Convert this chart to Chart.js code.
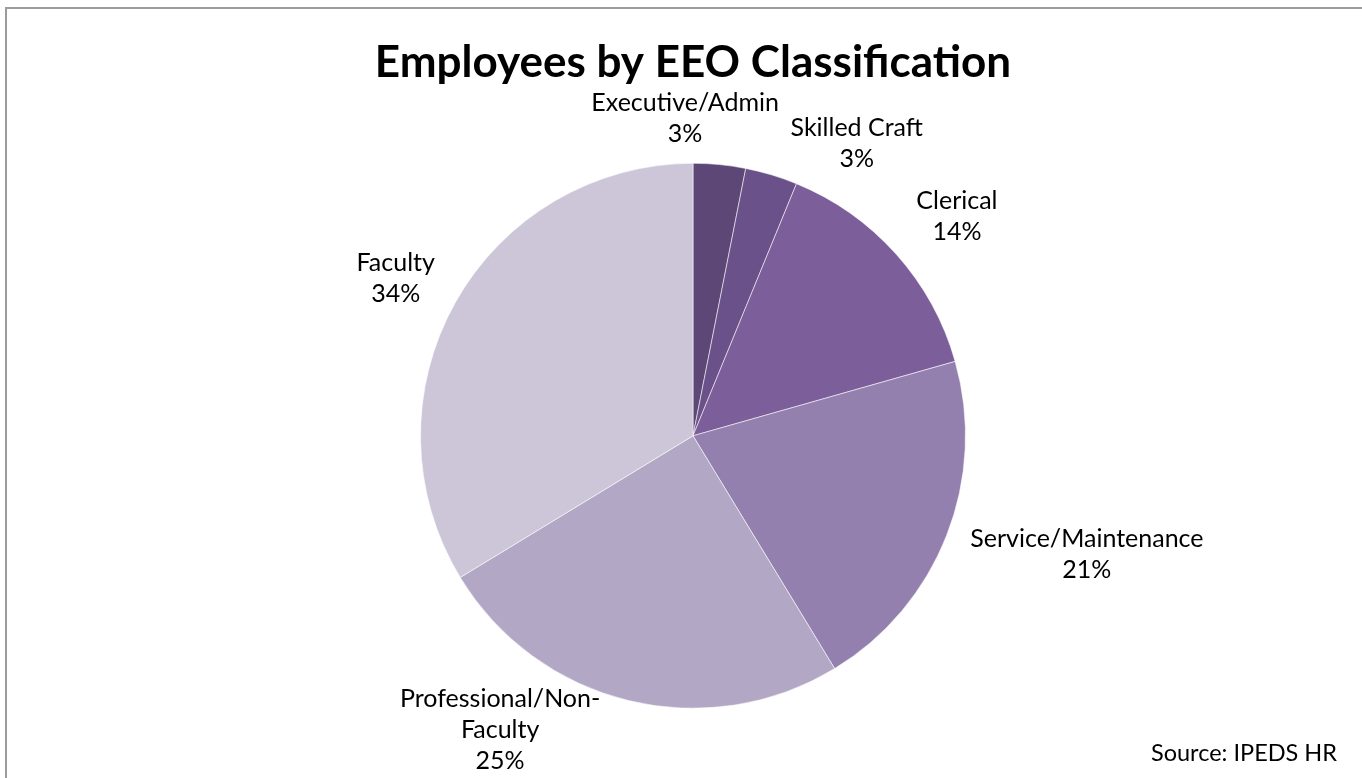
<!DOCTYPE html>
<html>
<head>
<meta charset="utf-8">
<title>Employees by EEO Classification</title>
<script src="https://cdn.jsdelivr.net/npm/chart.js@4.4.1/dist/chart.umd.min.js"></script>
<style>
  html, body { margin: 0; padding: 0; background: #fff; }
  body { width: 1362px; height: 778px; position: relative; overflow: hidden; }
  /* frame of the original chart object, its right and bottom edges are off-picture */
  .frame {
    position: absolute; left: 5px; top: 7px; width: 1400px; height: 800px;
    border-top: 2px solid #9c9c9c; border-left: 2px solid #9c9c9c;
  }
  .wrap { position: absolute; left: 0; top: 0; width: 1362px; height: 778px; }
</style>
</head>
<body>
<div class="frame"></div>
<div class="wrap"><canvas id="pie"></canvas></div>
<script>
// chart data
const categories = [
  'Executive/Admin',
  'Skilled Craft',
  'Clerical',
  'Service/Maintenance',
  ['Professional/Non-', 'Faculty'],
  'Faculty'
];
const shares = [3.1, 3.1, 14.4, 20.7, 25.0, 33.7];

// slice colours, dark to light
const sliceColors = ['#5d4777', '#6a5189', '#7b5e9a', '#9480ae', '#b2a8c6', '#cdc6d9'];

// where each data label sits: turn from the slice middle (deg) and distance (x radius)
const labelTurn = [-7, 12.5, 2, -4.6, 19.6, -1.4];
const labelDist = [1.165, 1.23, 1.26, 1.51, 1.29, 1.235];

const FONT = 'Lato, "Open Sans", "DejaVu Sans", sans-serif';

// draws "Name / xx%" next to every slice
const sliceLabels = {
  id: 'sliceLabels',
  afterDatasetsDraw(chart) {
    const ctx = chart.ctx;
    const arcs = chart.getDatasetMeta(0).data;
    const total = shares.reduce((a, b) => a + b, 0);
    ctx.save();
    ctx.font = '25px ' + FONT;
    ctx.fillStyle = '#000';
    ctx.textAlign = 'center';
    ctx.textBaseline = 'middle';
    arcs.forEach((arc, i) => {
      const p = arc.getProps(['x', 'y', 'startAngle', 'endAngle', 'outerRadius'], true);
      const mid = (p.startAngle + p.endAngle) / 2 + labelTurn[i] * Math.PI / 180;
      const r = p.outerRadius * labelDist[i];
      const cx = p.x + Math.cos(mid) * r;
      const cy = p.y + Math.sin(mid) * r;
      const name = [].concat(categories[i]);
      const lines = name.concat(Math.round(shares[i] / total * 100) + '%');
      const lh = 31;
      const top = cy - (lines.length - 1) * lh / 2;
      lines.forEach((t, k) => ctx.fillText(t, cx, top + k * lh));
    });
    ctx.restore();
  }
};

new Chart(document.getElementById('pie'), {
  type: 'pie',
  data: {
    labels: categories,
    datasets: [{
      data: shares,
      backgroundColor: sliceColors,
      borderColor: 'rgba(255,255,255,0.55)',
      borderWidth: 1
    }]
  },
  options: {
    responsive: true,
    maintainAspectRatio: false,
    animation: false,
    layout: { padding: { left: 49, right: 25, top: 10, bottom: 10 } },
    plugins: {
      legend: { display: false },
      tooltip: { enabled: false },
      title: {
        display: true,
        text: 'Employees by EEO Classification',
        color: '#000',
        font: { family: FONT, size: 44, weight: 'bold', lineHeight: 1.2 },
        padding: { top: 26, bottom: 74 }
      },
      subtitle: {
        display: true,
        position: 'bottom',
        align: 'end',
        text: 'Source: IPEDS HR',
        color: '#000',
        font: { family: FONT, size: 23.5, lineHeight: 1.2 },
        padding: { top: 31, bottom: 0 }
      }
    }
  },
  plugins: [sliceLabels]
});
</script>
</body>
</html>
